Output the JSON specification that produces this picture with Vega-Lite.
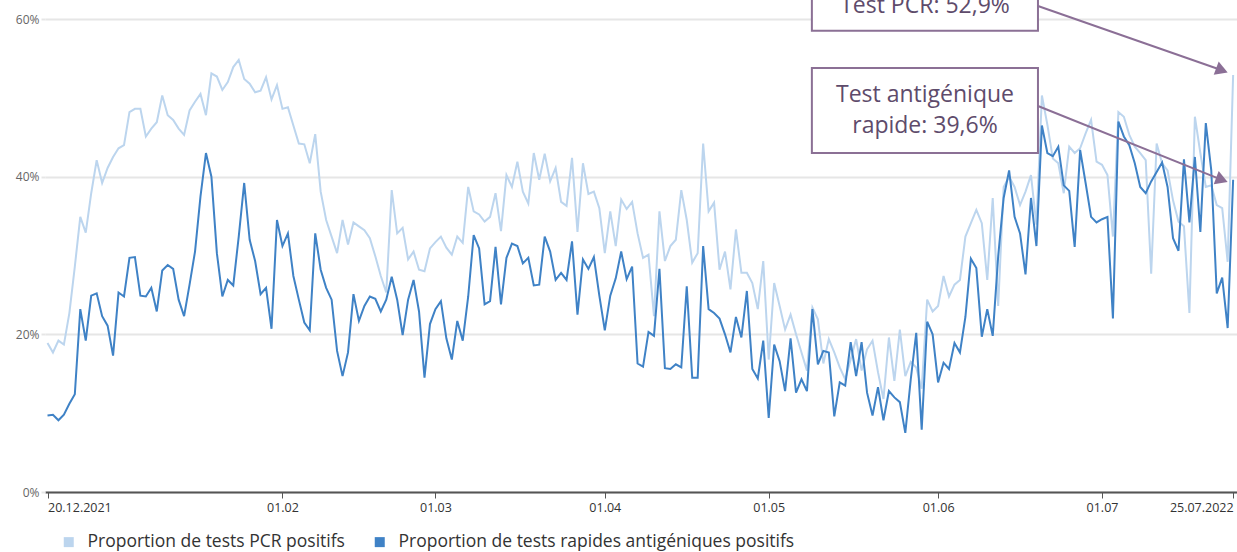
{
  "$schema": "https://vega.github.io/schema/vega-lite/v6.json",
  "width": 1192,
  "height": 473,
  "autosize": {"type": "none"},
  "padding": {"left": 45, "top": 19, "right": 0, "bottom": 60},
  "background": "white",
  "config": {"view": {"stroke": null}, "font": "Open Sans"},
  "datasets": {
    "series": [
      {"date":"2021-12-20","pcr":18.9,"antigen":9.7},{"date":"2021-12-21","pcr":17.7,"antigen":9.8},{"date":"2021-12-22","pcr":19.2,"antigen":9.1},{"date":"2021-12-23","pcr":18.7,"antigen":9.8},{"date":"2021-12-24","pcr":22.7,"antigen":11.2},{"date":"2021-12-25","pcr":28.6,"antigen":12.4},{"date":"2021-12-26","pcr":34.9,"antigen":23.2},{"date":"2021-12-27","pcr":32.9,"antigen":19.2},{"date":"2021-12-28","pcr":37.9,"antigen":24.9},{"date":"2021-12-29","pcr":42.1,"antigen":25.2},{"date":"2021-12-30","pcr":39.2,"antigen":22.3},{"date":"2021-12-31","pcr":41.1,"antigen":21.1},
      {"date":"2022-01-01","pcr":42.5,"antigen":17.3},{"date":"2022-01-02","pcr":43.6,"antigen":25.3},{"date":"2022-01-03","pcr":44.0,"antigen":24.8},{"date":"2022-01-04","pcr":48.2,"antigen":29.7},{"date":"2022-01-05","pcr":48.6,"antigen":29.8},{"date":"2022-01-06","pcr":48.6,"antigen":24.9},{"date":"2022-01-07","pcr":45.1,"antigen":24.8},{"date":"2022-01-08","pcr":46.1,"antigen":25.9},{"date":"2022-01-09","pcr":46.9,"antigen":22.9},{"date":"2022-01-10","pcr":50.3,"antigen":28.1},{"date":"2022-01-11","pcr":47.8,"antigen":28.8},{"date":"2022-01-12","pcr":47.2,"antigen":28.3},{"date":"2022-01-13","pcr":46.1,"antigen":24.4},{"date":"2022-01-14","pcr":45.3,"antigen":22.3},{"date":"2022-01-15","pcr":48.4,"antigen":26.3},{"date":"2022-01-16","pcr":49.5,"antigen":30.5},{"date":"2022-01-17","pcr":50.5,"antigen":37.5},{"date":"2022-01-18","pcr":47.8,"antigen":43.0},{"date":"2022-01-19","pcr":53.1,"antigen":40.0},{"date":"2022-01-20","pcr":52.7,"antigen":30.3},{"date":"2022-01-21","pcr":51.0,"antigen":24.8},{"date":"2022-01-22","pcr":52.0,"antigen":26.9},{"date":"2022-01-23","pcr":53.9,"antigen":26.2},{"date":"2022-01-24","pcr":54.8,"antigen":32.4},{"date":"2022-01-25","pcr":52.4,"antigen":39.2},{"date":"2022-01-26","pcr":51.8,"antigen":32.0},{"date":"2022-01-27","pcr":50.7,"antigen":29.3},{"date":"2022-01-28","pcr":50.9,"antigen":25.1},{"date":"2022-01-29","pcr":52.6,"antigen":25.9},{"date":"2022-01-30","pcr":49.8,"antigen":20.7},{"date":"2022-01-31","pcr":51.6,"antigen":34.5},
      {"date":"2022-02-01","pcr":48.6,"antigen":31.2},{"date":"2022-02-02","pcr":48.8,"antigen":32.8},{"date":"2022-02-03","pcr":46.5,"antigen":27.4},{"date":"2022-02-04","pcr":44.2,"antigen":24.4},{"date":"2022-02-05","pcr":44.1,"antigen":21.5},{"date":"2022-02-06","pcr":41.7,"antigen":20.5},{"date":"2022-02-07","pcr":45.4,"antigen":32.8},{"date":"2022-02-08","pcr":38.1,"antigen":28.2},{"date":"2022-02-09","pcr":34.5,"antigen":25.9},{"date":"2022-02-10","pcr":32.4,"antigen":24.4},{"date":"2022-02-11","pcr":30.3,"antigen":17.9},{"date":"2022-02-12","pcr":34.5,"antigen":14.7},{"date":"2022-02-13","pcr":31.4,"antigen":17.7},{"date":"2022-02-14","pcr":34.2,"antigen":25.1},{"date":"2022-02-15","pcr":33.7,"antigen":21.7},{"date":"2022-02-16","pcr":33.2,"antigen":23.6},{"date":"2022-02-17","pcr":32.2,"antigen":24.8},{"date":"2022-02-18","pcr":29.9,"antigen":24.5},{"date":"2022-02-19","pcr":27.4,"antigen":22.9},{"date":"2022-02-20","pcr":25.3,"antigen":24.4},{"date":"2022-02-21","pcr":38.3,"antigen":27.3},{"date":"2022-02-22","pcr":32.8,"antigen":24.4},{"date":"2022-02-23","pcr":33.5,"antigen":19.9},{"date":"2022-02-24","pcr":29.5,"antigen":24.4},{"date":"2022-02-25","pcr":30.5,"antigen":26.9},{"date":"2022-02-26","pcr":28.2,"antigen":22.9},{"date":"2022-02-27","pcr":28.0,"antigen":14.5},{"date":"2022-02-28","pcr":30.9,"antigen":21.3},
      {"date":"2022-03-01","pcr":31.7,"antigen":23.2},{"date":"2022-03-02","pcr":32.4,"antigen":24.2},{"date":"2022-03-03","pcr":31.0,"antigen":19.5},{"date":"2022-03-04","pcr":30.1,"antigen":16.8},{"date":"2022-03-05","pcr":32.4,"antigen":21.7},{"date":"2022-03-06","pcr":31.6,"antigen":19.2},{"date":"2022-03-07","pcr":38.7,"antigen":24.8},{"date":"2022-03-08","pcr":35.6,"antigen":32.6},{"date":"2022-03-09","pcr":35.2,"antigen":30.9},{"date":"2022-03-10","pcr":34.3,"antigen":23.8},{"date":"2022-03-11","pcr":34.9,"antigen":24.2},{"date":"2022-03-12","pcr":37.9,"antigen":31.1},{"date":"2022-03-13","pcr":33.1,"antigen":23.8},{"date":"2022-03-14","pcr":40.2,"antigen":29.7},{"date":"2022-03-15","pcr":38.7,"antigen":31.5},{"date":"2022-03-16","pcr":41.9,"antigen":31.2},{"date":"2022-03-17","pcr":38.1,"antigen":29.0},{"date":"2022-03-18","pcr":36.6,"antigen":29.7},{"date":"2022-03-19","pcr":43.0,"antigen":26.2},{"date":"2022-03-20","pcr":39.6,"antigen":26.3},{"date":"2022-03-21","pcr":42.9,"antigen":32.4},{"date":"2022-03-22","pcr":39.4,"antigen":30.5},{"date":"2022-03-23","pcr":41.1,"antigen":26.9},{"date":"2022-03-24","pcr":36.8,"antigen":27.8},{"date":"2022-03-25","pcr":36.3,"antigen":26.9},{"date":"2022-03-26","pcr":42.4,"antigen":31.8},{"date":"2022-03-27","pcr":33.0,"antigen":22.5},{"date":"2022-03-28","pcr":41.7,"antigen":29.5},{"date":"2022-03-29","pcr":37.8,"antigen":28.3},{"date":"2022-03-30","pcr":38.1,"antigen":29.8},{"date":"2022-03-31","pcr":36.0,"antigen":24.9},
      {"date":"2022-04-01","pcr":30.3,"antigen":20.5},{"date":"2022-04-02","pcr":35.6,"antigen":24.9},{"date":"2022-04-03","pcr":31.2,"antigen":27.1},{"date":"2022-04-04","pcr":37.1,"antigen":30.5},{"date":"2022-04-05","pcr":35.9,"antigen":27.0},{"date":"2022-04-06","pcr":36.8,"antigen":28.6},{"date":"2022-04-07","pcr":32.8,"antigen":16.3},{"date":"2022-04-08","pcr":29.7,"antigen":15.9},{"date":"2022-04-09","pcr":30.1,"antigen":20.3},{"date":"2022-04-10","pcr":22.3,"antigen":19.8},{"date":"2022-04-11","pcr":35.6,"antigen":28.3},{"date":"2022-04-12","pcr":29.3,"antigen":15.7},{"date":"2022-04-13","pcr":31.2,"antigen":15.6},{"date":"2022-04-14","pcr":32.0,"antigen":16.2},{"date":"2022-04-15","pcr":38.3,"antigen":15.8},{"date":"2022-04-16","pcr":34.5,"antigen":26.1},{"date":"2022-04-17","pcr":29.1,"antigen":14.5},{"date":"2022-04-18","pcr":30.3,"antigen":14.5},{"date":"2022-04-19","pcr":44.2,"antigen":31.2},{"date":"2022-04-20","pcr":35.6,"antigen":23.2},{"date":"2022-04-21","pcr":36.7,"antigen":22.7},{"date":"2022-04-22","pcr":28.2,"antigen":22.0},{"date":"2022-04-23","pcr":30.5,"antigen":20.0},{"date":"2022-04-24","pcr":25.7,"antigen":17.7},{"date":"2022-04-25","pcr":33.3,"antigen":22.2},{"date":"2022-04-26","pcr":27.8,"antigen":19.6},{"date":"2022-04-27","pcr":27.8,"antigen":25.5},{"date":"2022-04-28","pcr":26.5,"antigen":15.6},{"date":"2022-04-29","pcr":23.2,"antigen":14.4},{"date":"2022-04-30","pcr":29.3,"antigen":19.2},
      {"date":"2022-05-01","pcr":16.8,"antigen":9.4},{"date":"2022-05-02","pcr":26.5,"antigen":18.7},{"date":"2022-05-03","pcr":23.6,"antigen":16.6},{"date":"2022-05-04","pcr":20.6,"antigen":12.8},{"date":"2022-05-05","pcr":22.5,"antigen":19.5},{"date":"2022-05-06","pcr":20.0,"antigen":12.6},{"date":"2022-05-07","pcr":17.7,"antigen":14.3},{"date":"2022-05-08","pcr":15.4,"antigen":12.8},{"date":"2022-05-09","pcr":23.4,"antigen":23.2},{"date":"2022-05-10","pcr":21.9,"antigen":16.2},{"date":"2022-05-11","pcr":16.3,"antigen":17.9},{"date":"2022-05-12","pcr":19.4,"antigen":17.7},{"date":"2022-05-13","pcr":17.7,"antigen":9.6},{"date":"2022-05-14","pcr":15.8,"antigen":13.9},{"date":"2022-05-15","pcr":14.3,"antigen":13.5},{"date":"2022-05-16","pcr":16.8,"antigen":19.0},{"date":"2022-05-17","pcr":19.4,"antigen":14.7},{"date":"2022-05-18","pcr":15.4,"antigen":19.0},{"date":"2022-05-19","pcr":18.1,"antigen":12.6},{"date":"2022-05-20","pcr":19.2,"antigen":9.7},{"date":"2022-05-21","pcr":15.2,"antigen":13.3},{"date":"2022-05-22","pcr":11.8,"antigen":9.1},{"date":"2022-05-23","pcr":19.6,"antigen":12.8},{"date":"2022-05-24","pcr":14.1,"antigen":12.0},{"date":"2022-05-25","pcr":20.6,"antigen":11.4},{"date":"2022-05-26","pcr":14.7,"antigen":7.5},{"date":"2022-05-27","pcr":16.5,"antigen":14.3},{"date":"2022-05-28","pcr":15.8,"antigen":20.2},{"date":"2022-05-29","pcr":13.1,"antigen":7.9},{"date":"2022-05-30","pcr":24.4,"antigen":21.6},{"date":"2022-05-31","pcr":22.9,"antigen":20.0},
      {"date":"2022-06-01","pcr":23.6,"antigen":13.9},{"date":"2022-06-02","pcr":27.4,"antigen":16.4},{"date":"2022-06-03","pcr":24.8,"antigen":15.6},{"date":"2022-06-04","pcr":26.3,"antigen":18.9},{"date":"2022-06-05","pcr":26.9,"antigen":17.7},{"date":"2022-06-06","pcr":32.4,"antigen":22.2},{"date":"2022-06-07","pcr":34.1,"antigen":29.6},{"date":"2022-06-08","pcr":35.8,"antigen":28.4},{"date":"2022-06-09","pcr":34.1,"antigen":19.7},{"date":"2022-06-10","pcr":26.9,"antigen":23.2},{"date":"2022-06-11","pcr":37.3,"antigen":19.8},{"date":"2022-06-12","pcr":23.6,"antigen":29.9},{"date":"2022-06-13","pcr":38.7,"antigen":37.3},{"date":"2022-06-14","pcr":40.0,"antigen":40.8},{"date":"2022-06-15","pcr":38.7,"antigen":34.9},{"date":"2022-06-16","pcr":36.4,"antigen":32.8},{"date":"2022-06-17","pcr":38.1,"antigen":27.6},{"date":"2022-06-18","pcr":40.2,"antigen":37.3},{"date":"2022-06-19","pcr":33.9,"antigen":31.2},{"date":"2022-06-20","pcr":50.3,"antigen":46.5},{"date":"2022-06-21","pcr":46.6,"antigen":43.0},{"date":"2022-06-22","pcr":42.3,"antigen":42.6},{"date":"2022-06-23","pcr":41.7,"antigen":43.8},{"date":"2022-06-24","pcr":37.9,"antigen":38.9},{"date":"2022-06-25","pcr":43.8,"antigen":38.2},{"date":"2022-06-26","pcr":43.0,"antigen":31.1},{"date":"2022-06-27","pcr":43.6,"antigen":43.4},{"date":"2022-06-28","pcr":45.5,"antigen":39.2},{"date":"2022-06-29","pcr":47.2,"antigen":34.9},{"date":"2022-06-30","pcr":41.9,"antigen":34.2},
      {"date":"2022-07-01","pcr":41.5,"antigen":34.6},{"date":"2022-07-02","pcr":40.2,"antigen":34.9},{"date":"2022-07-03","pcr":32.4,"antigen":22.0},{"date":"2022-07-04","pcr":48.2,"antigen":47.0},{"date":"2022-07-05","pcr":47.6,"antigen":45.1},{"date":"2022-07-06","pcr":45.3,"antigen":44.0},{"date":"2022-07-07","pcr":43.8,"antigen":41.7},{"date":"2022-07-08","pcr":43.0,"antigen":38.7},{"date":"2022-07-09","pcr":42.1,"antigen":37.9},{"date":"2022-07-10","pcr":27.7,"antigen":39.4},{"date":"2022-07-11","pcr":44.2,"antigen":40.6},{"date":"2022-07-12","pcr":41.7,"antigen":41.8},{"date":"2022-07-13","pcr":40.8,"antigen":38.7},{"date":"2022-07-14","pcr":37.0,"antigen":32.2},{"date":"2022-07-15","pcr":34.3,"antigen":30.6},{"date":"2022-07-16","pcr":33.7,"antigen":42.2},{"date":"2022-07-17","pcr":22.7,"antigen":34.2},{"date":"2022-07-18","pcr":47.6,"antigen":42.5},{"date":"2022-07-19","pcr":43.0,"antigen":33.0},{"date":"2022-07-20","pcr":38.7,"antigen":46.8},{"date":"2022-07-21","pcr":38.9,"antigen":40.8},{"date":"2022-07-22","pcr":36.4,"antigen":25.2},{"date":"2022-07-23","pcr":36.0,"antigen":27.2},{"date":"2022-07-24","pcr":29.2,"antigen":20.8},{"date":"2022-07-25","pcr":52.9,"antigen":39.6}
    ],
    "boxes": [
      {"date":"2022-05-08T21:36:00Z","date2":"2022-06-19T06:43:00Z","top":66,"bottom":58.5},
      {"date":"2022-05-08T21:36:00Z","date2":"2022-06-19T06:43:00Z","top":53.8,"bottom":43.0}
    ],
    "labels": [
      {"date":"2022-05-29T14:24:00Z","value":61.65,"label":"Test PCR: 52,9%"},
      {"date":"2022-05-29T14:24:00Z","value":50.4,"label":"Test antigénique\nrapide: 39,6%"}
    ],
    "arrows": [
      {"date":"2022-06-19T06:43:00Z","date2":"2022-07-22T22:48:00Z","start":61.65,"end":53.5},
      {"date":"2022-06-19T06:43:00Z","date2":"2022-07-22T22:48:00Z","start":48.96,"end":39.6}
    ]
  },
  "layer": [
    {
      "data": {"name": "series"},
      "transform": [{"fold": ["pcr", "antigen"], "as": ["series", "value"]}],
      "mark": {"type": "line", "strokeWidth": 2},
      "encoding": {
        "x": {
          "field": "date", "type": "temporal",
          "scale": {"type": "utc", "domain": [
            {"year": 2021, "month": 12, "date": 19, "hours": 13, "utc": true},
            {"year": 2022, "month": 7, "date": 25, "hours": 17, "utc": true}
          ]},
          "axis": {
            "title": null,
            "grid": false,
            "values": [
              {"year": 2021, "month": 12, "date": 20, "utc": true},
              {"year": 2022, "month": 2, "date": 1, "utc": true},
              {"year": 2022, "month": 3, "date": 1, "utc": true},
              {"year": 2022, "month": 4, "date": 1, "utc": true},
              {"year": 2022, "month": 5, "date": 1, "utc": true},
              {"year": 2022, "month": 6, "date": 1, "utc": true},
              {"year": 2022, "month": 7, "date": 1, "utc": true},
              {"year": 2022, "month": 7, "date": 25, "utc": true}
            ],
            "labelExpr": "utcFormat(datum.value, (utcmonth(datum.value) == 11 || utcdate(datum.value) == 25) ? '%d.%m.%Y' : '%d.%m')",
            "labelFlush": 5,
            "labelOverlap": false,
            "domainColor": "#555555",
            "domainWidth": 2,
            "tickColor": "#555555",
            "tickSize": 6,
            "labelColor": "#333333",
            "labelFontSize": 12.5,
            "labelFont": "Open Sans",
            "labelPadding": 3
          }
        },
        "y": {
          "field": "value", "type": "quantitative",
          "scale": {"domain": [0, 60], "nice": false},
          "axis": {
            "title": null,
            "values": [0, 20, 40, 60],
            "labelExpr": "datum.value + '%'",
            "domain": false,
            "gridColor": "#e6e6e6",
            "gridWidth": 2,
            "tickColor": "#e6e6e6",
            "tickSize": 4,
            "tickWidth": 2,
            "labelColor": "#666666",
            "labelFontSize": 12,
            "labelFont": "Open Sans",
            "labelPadding": 2
          }
        },
        "color": {
          "field": "series", "type": "nominal",
          "scale": {"domain": ["pcr", "antigen"], "range": ["#bcd5ee", "#3f82c6"]},
          "legend": {
            "title": null,
            "orient": "none",
            "legendX": 15,
            "legendY": 514,
            "direction": "horizontal",
            "symbolType": "square",
            "symbolSize": 100,
            "symbolStrokeWidth": 0,
            "symbolFillColor": {"expr": "datum.value == 'pcr' ? '#bcd5ee' : '#3f82c6'"},
            "labelExpr": "datum.value == 'pcr' ? 'Proportion de tests PCR positifs' : 'Proportion de tests rapides antigéniques positifs'",
            "labelFontSize": 17.5,
            "labelFont": "Open Sans",
            "labelColor": "#333333",
            "labelLimit": 0,
            "labelOffset": 10,
            "columnPadding": 26,
            "padding": 0
          }
        }
      }
    },
    {
      "data": {"name": "boxes"},
      "mark": {"type": "rect", "fill": "white", "stroke": "#8b7095", "strokeWidth": 2},
      "encoding": {
        "x": {"field": "date", "type": "temporal"},
        "x2": {"field": "date2"},
        "y": {"field": "top", "type": "quantitative"},
        "y2": {"field": "bottom"}
      }
    },
    {
      "data": {"name": "labels"},
      "mark": {"type": "text", "font": "Open Sans", "fontSize": 23, "color": "#5e4b6b", "lineBreak": "\n", "lineHeight": 31, "baseline": "middle", "align": "center"},
      "encoding": {
        "x": {"field": "date", "type": "temporal"},
        "y": {"field": "value", "type": "quantitative"},
        "text": {"field": "label"}
      }
    },
    {
      "data": {"name": "arrows"},
      "mark": {"type": "rule", "color": "#8b6f96", "strokeWidth": 2},
      "encoding": {
        "x": {"field": "date", "type": "temporal"},
        "x2": {"field": "date2"},
        "y": {"field": "start", "type": "quantitative"},
        "y2": {"field": "end"}
      }
    },
    {
      "data": {"name": "arrows"},
      "mark": {"type": "point", "shape": "triangle-right", "angle": 20.5, "filled": true, "size": 200, "color": "#8b6f96", "opacity": 1},
      "encoding": {
        "x": {"field": "date2", "type": "temporal"},
        "y": {"field": "end", "type": "quantitative"}
      }
    }
  ]
}
